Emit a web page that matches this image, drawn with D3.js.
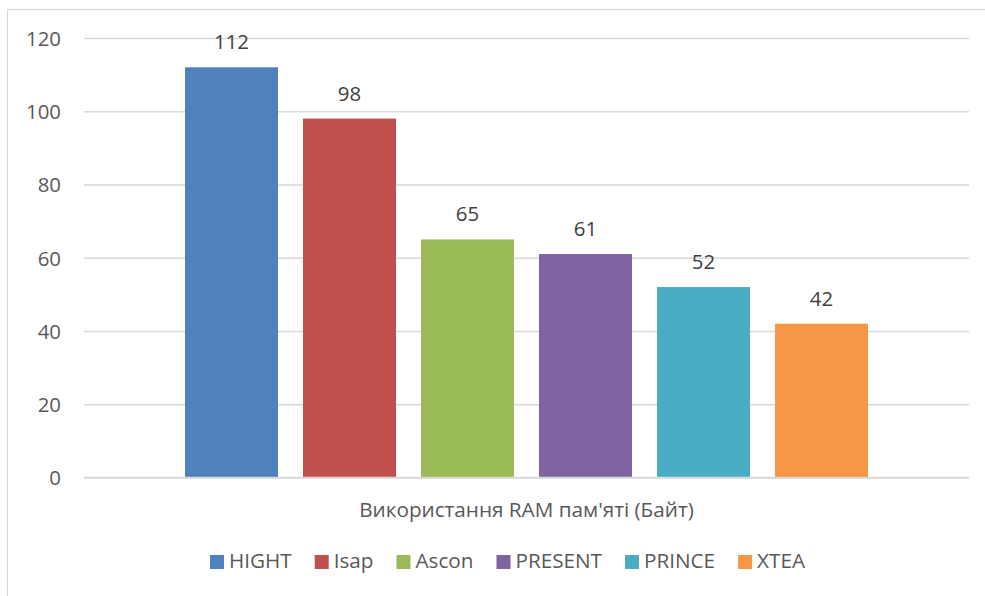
<!DOCTYPE html>
<html>
<head>
<meta charset="utf-8">
<script src="https://cdn.jsdelivr.net/npm/d3@7"></script>
<style>
  html, body { margin: 0; padding: 0; background: #fff; }
  svg { display: block; font-family: "Open Sans", "Liberation Sans", sans-serif; }
</style>
</head>
<body>
<svg id="chart" width="985" height="596"></svg>
<script>
// ---- data ----
const categories = ["Використання RAM пам'яті (Байт)"];
const seriesNames = ["HIGHT", "Isap", "Ascon", "PRESENT", "PRINCE", "XTEA"];
const seriesValues = [112, 98, 65, 61, 52, 42];
const seriesColors = ["#4F81BD", "#C0504D", "#9BBB59", "#8064A2", "#4BACC6", "#F79646"];
const yTicks = [0, 20, 40, 60, 80, 100, 120];

// ---- layout ----
const W = 985, H = 596;
const chartArea = { x: 7.5, y: 9.5, w: 1000, h: 700 };
const plot = { left: 84, right: 969, top: 38, bottom: 477.5 };

const svg = d3.select("#chart");

// chart border (right/bottom edges fall outside the picture)
svg.append("rect")
  .attr("x", chartArea.x).attr("y", chartArea.y)
  .attr("width", chartArea.w).attr("height", chartArea.h)
  .attr("fill", "#fff").attr("stroke", "#D9D9D9").attr("stroke-width", 1.2);

const y = d3.scaleLinear().domain([0, 120]).range([plot.bottom, plot.top]);
const x0 = d3.scaleBand().domain(categories).range([plot.left, plot.right])
  .paddingInner(0).paddingOuter(0.1479);
const x1 = d3.scaleBand().domain(seriesNames).range([0, x0.bandwidth()])
  .paddingInner(0.2119).paddingOuter(0);

// gridlines
const yAxis = d3.axisLeft(y).tickValues(yTicks).tickSize(-(plot.right - plot.left)).tickPadding(23).tickFormat(d3.format("d"));
const gAxis = svg.append("g").attr("transform", `translate(${plot.left},0)`).call(yAxis);
gAxis.select(".domain").remove();
gAxis.selectAll(".tick line").attr("stroke", "#D9D9D9").attr("stroke-width", 1.3);
gAxis.selectAll(".tick text")
  .attr("fill", "#595959").attr("font-size", "20.4px")
  .attr("font-family", "'Open Sans', sans-serif")
  .attr("dy", "0.36em");

// bars
const cat = categories[0];
const bars = svg.append("g").attr("transform", `translate(${x0(cat)},0)`);
bars.selectAll("rect").data(seriesNames).join("rect")
  .attr("x", (d) => x1(d))
  .attr("y", (d, i) => y(seriesValues[i]))
  .attr("width", x1.bandwidth())
  .attr("height", (d, i) => y(0) - y(seriesValues[i]))
  .attr("fill", (d, i) => seriesColors[i]);

// zero axis line on top
svg.append("line")
  .attr("x1", plot.left).attr("x2", plot.right)
  .attr("y1", y(0)).attr("y2", y(0))
  .attr("stroke", "#D9D9D9").attr("stroke-width", 1.5);

// data labels
bars.selectAll("text.lbl").data(seriesNames).join("text")
  .attr("class", "lbl")
  .attr("x", (d) => x1(d) + x1.bandwidth() / 2)
  .attr("y", (d, i) => y(seriesValues[i]) - 18)
  .attr("text-anchor", "middle")
  .attr("fill", "#404040").attr("font-size", "20.4px")
  .text((d, i) => seriesValues[i]);

// category label
svg.append("text")
  .attr("x", x0(cat) + x0.bandwidth() / 2)
  .attr("y", 517)
  .attr("text-anchor", "middle")
  .attr("fill", "#595959").attr("font-size", "20.7px")
  .text(cat);

// legend
const legend = svg.append("g");
const items = legend.selectAll("g").data(seriesNames).join("g");
items.append("rect").attr("width", 14).attr("height", 14).attr("y", 555)
  .attr("fill", (d, i) => seriesColors[i]);
items.append("text").attr("y", 568).attr("x", 19)
  .attr("fill", "#595959").attr("font-size", "20.7px")
  .text((d) => d);
let cx = 0;
items.each(function () {
  const g = d3.select(this);
  g.attr("transform", `translate(${cx},0)`);
  const tw = g.select("text").node().getComputedTextLength();
  cx += 19 + tw + 23;
});
const total = cx - 23;
const centerX = chartArea.x + chartArea.w / 2;
legend.attr("transform", `translate(${centerX - total / 2},0)`);
</script>
</body>
</html>
